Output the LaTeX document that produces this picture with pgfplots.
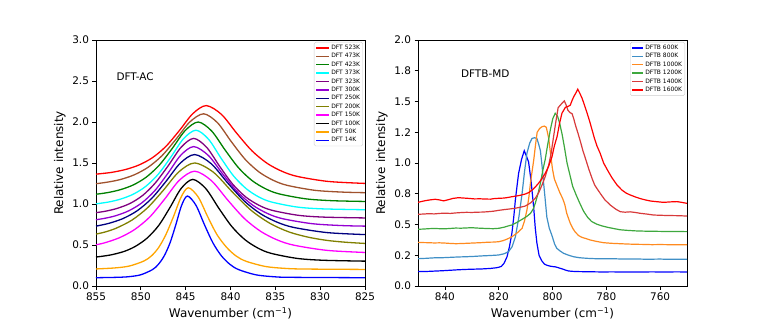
\documentclass[border=0pt]{standalone}
\usepackage{fontspec}
\setmainfont{DejaVu Sans}
\usepackage{pgfplots}
\pgfplotsset{compat=1.18}

% left panel colours (matplotlib named colours)
\definecolor{msienna}{HTML}{A0522D}
\definecolor{mgreen}{HTML}{008000}
\definecolor{mcyan}{HTML}{00FFFF}
\definecolor{mpurple}{HTML}{800080}
\definecolor{mviolet}{HTML}{9400D3}
\definecolor{mnavy}{HTML}{000080}
\definecolor{molive}{HTML}{808000}
\definecolor{mmagenta}{HTML}{FF00FF}
\definecolor{morange}{HTML}{FFA500}
% right panel colours (tab palette, slightly transparent look)
\definecolor{tblue}{HTML}{3F8FC6}
\definecolor{torange}{HTML}{FF8A1F}
\definecolor{tgreen}{HTML}{3EA83E}
\definecolor{tred}{HTML}{D83A3B}

\pgfplotsset{
  spec/.style={
    scale only axis, width=269bp, height=246bp,
    x dir=reverse,
    axis line style={line width=0.8bp},
    tick align=outside, major tick length=3.5bp,
    tick style={line width=0.8bp, black},
    xtick pos=lower, ytick pos=left,
    tick label style={font=\fontsize{10.5}{12}\selectfont},
    label style={font=\fontsize{12}{14}\selectfont},
    /pgf/number format/assume math mode=true,
    xlabel={Wavenumber (cm\textsuperscript{−1})},
    ylabel={Relative intensity},
    legend cell align=left,
    legend style={font=\fontsize{6}{7}\selectfont, draw=black!20,
      rounded corners=1.5bp, anchor=north east,
      at={(axis description cs:1,1)}, xshift=-2bp, yshift=-2bp,
      inner sep=1.5bp, row sep=0pt,
      nodes={inner sep=1.2bp, text height=4.6bp, text depth=1.4bp}},
    legend image code/.code={\draw[##1, line width=1.4bp] (0bp,0bp) -- (13bp,0bp);},
    every axis plot/.append style={line width=1.3bp},
  }
}

\begin{document}
\begin{tikzpicture}
\useasboundingbox (0,0) rectangle (763bp,327bp);

% ---------------- left: DFT-AC ----------------
\begin{axis}[spec,
  at={(96bp,41bp)}, anchor=south west,
  xmin=825, xmax=855, ymin=0, ymax=3,
  xtick={825,830,835,840,845,850,855},
  ytick={0,0.5,1,1.5,2,2.5,3},
  yticklabel style={/pgf/number format/fixed,
    /pgf/number format/fixed zerofill, /pgf/number format/precision=1},
  every axis plot/.append style={smooth},
]
\addplot[red] coordinates {(855,1.364) (853.3,1.385) (851.7,1.421) (850.2,1.476) (848.7,1.565) (847.2,1.703) (845.7,1.896) (844.2,2.102) (842.7,2.200) (841.0,2.092) (839.3,1.862) (837.6,1.648) (835.9,1.495) (834.2,1.396) (832.5,1.335) (829.1,1.275) (825,1.251)};
\addlegendentry{DFT 523K}
\addplot[msienna] coordinates {(855,1.247) (853.7,1.267) (852.3,1.298) (850.75,1.355) (849.2,1.447) (847.65,1.588) (846.1,1.787) (844.55,1.999) (843.0,2.100) (841.45,1.991) (839.9,1.759) (838.35,1.543) (836.8,1.389) (835.25,1.290) (833.7,1.228) (830.6,1.167) (827.5,1.145) (825,1.138)};
\addlegendentry{DFT 473K}
\addplot[mgreen] coordinates {(855,1.119) (853.7,1.139) (852.3,1.174) (850.85,1.232) (849.4,1.327) (847.95,1.473) (846.5,1.677) (845.05,1.896) (843.6,2.000) (842.1,1.890) (840.6,1.658) (839.1,1.441) (837.6,1.286) (836.1,1.186) (834.6,1.124) (831.6,1.063) (828.6,1.040) (825,1.031)};
\addlegendentry{DFT 423K}
\addplot[mcyan] coordinates {(855,1.002) (853.6,1.024) (852.25,1.060) (850.85,1.119) (849.45,1.215) (848.05,1.364) (846.65,1.572) (845.25,1.795) (843.85,1.900) (842.45,1.790) (841.05,1.558) (839.65,1.341) (838.25,1.187) (836.85,1.086) (835.45,1.025) (832.65,0.964) (829.85,0.941) (825,0.930)};
\addlegendentry{DFT 373K}
\addplot[mpurple] coordinates {(855,0.894) (853.9,0.913) (852.65,0.946) (851.2,1.007) (849.8,1.104) (848.4,1.255) (846.95,1.466) (845.5,1.693) (844.1,1.800) (842.65,1.690) (841.2,1.458) (839.75,1.241) (838.3,1.086) (836.85,0.986) (835.4,0.924) (832.5,0.863) (829.6,0.840) (825,0.830)};
\addlegendentry{DFT 323K}
\addplot[mviolet] coordinates {(855,0.808) (854.0,0.826) (852.8,0.857) (851.35,0.917) (849.9,1.013) (848.45,1.162) (847.0,1.371) (845.55,1.594) (844.1,1.700) (842.45,1.590) (840.8,1.356) (839.15,1.139) (837.5,0.984) (835.85,0.883) (834.2,0.821) (830.9,0.760) (827.6,0.737) (825,0.730)};
\addlegendentry{DFT 300K}
\addplot[mnavy] coordinates {(855,0.730) (853.6,0.763) (852.0,0.822) (850.4,0.918) (848.8,1.067) (847.2,1.275) (845.6,1.498) (844.0,1.603) (842.15,1.491) (840.3,1.255) (838.45,1.035) (836.6,0.878) (834.75,0.776) (832.9,0.713) (829.2,0.651) (825,0.627)};
\addlegendentry{DFT 250K}
\addplot[molive] coordinates {(855,0.633) (854.0,0.658) (852.75,0.705) (851.0,0.803) (849.25,0.954) (847.5,1.166) (845.75,1.393) (844.0,1.500) (841.9,1.387) (839.8,1.147) (837.7,0.923) (835.6,0.764) (833.5,0.660) (831.4,0.597) (829.3,0.557) (827.2,0.534) (825,0.519)};
\addlegendentry{DFT 200K}
\addplot[mmagenta] coordinates {(855,0.503) (854.05,0.526) (852.4,0.588) (850.7,0.688) (849.0,0.842) (847.35,1.059) (845.7,1.290) (844.0,1.400) (842.15,1.287) (840.3,1.047) (838.45,0.823) (836.6,0.664) (834.75,0.560) (832.9,0.497) (829.2,0.434) (825,0.409)};
\addlegendentry{DFT 150K}
\addplot[black] coordinates {(855,0.353) (853.4,0.378) (851.85,0.422) (850.6,0.484) (849.3,0.584) (848.0,0.739) (846.75,0.957) (845.5,1.190) (844.2,1.300) (842.75,1.187) (841.3,0.948) (839.85,0.725) (838.4,0.566) (836.95,0.463) (835.5,0.399) (832.6,0.337) (829.7,0.314) (825,0.303)};
\addlegendentry{DFT 100K}
\addplot[morange] coordinates {(855,0.208) (852.95,0.220) (851.3,0.243) (849.65,0.305) (848.8,0.369) (848.0,0.471) (847.2,0.628) (846.35,0.849) (845.5,1.086) (844.7,1.198) (843.6,1.085) (842.55,0.847) (841.5,0.625) (840.4,0.467) (839.35,0.364) (838.25,0.301) (836.1,0.238) (833.95,0.215) (831.8,0.207) (825,0.202)};
\addlegendentry{DFT 50K}
\addplot[blue] coordinates {(855,0.101) (852.6,0.106) (851.3,0.114) (850.0,0.137) (848.7,0.200) (848.05,0.263) (847.4,0.366) (846.75,0.524) (846.1,0.746) (845.45,0.984) (844.8,1.097) (843.85,0.984) (842.9,0.746) (841.95,0.524) (841.0,0.366) (840.05,0.263) (839.1,0.200) (837.2,0.137) (835.3,0.114) (833.4,0.106) (825,0.101)};
\addlegendentry{DFT 14K}
\node[anchor=west, font=\fontsize{10.5}{12}\selectfont] at (axis cs:853.1,2.55) {DFT-AC};
\end{axis}

% ---------------- right: DFTB-MD ----------------
\begin{axis}[spec,
  at={(418bp,41bp)}, anchor=south west,
  xmin=750, xmax=850, ymin=0, ymax=2,
  xtick={760,780,800,820,840},
  ytick={0,0.25,0.5,0.75,1,1.25,1.5,1.75,2},
  yticklabels={0.0,0.2,0.5,0.8,1.0,1.2,1.5,1.8,2.0},
  every axis plot/.append style={line width=1.2bp},
  legend image code/.code={\draw[#1, line width=1.4bp] (0bp,0bp) -- (11bp,0bp);},
]
\addplot[blue] coordinates {(850,0.117) (847,0.118) (844,0.121) (841,0.124) (838,0.128) (835,0.132) (832,0.135) (829,0.137) (826,0.139) (823,0.143) (821,0.148) (820,0.152) (819,0.160) (818,0.185) (816.9,0.238) (816,0.32) (815.1,0.428) (814.4,0.56) (813.8,0.70) (813.2,0.81) (812.6,0.916) (811.5,1.03) (810.5,1.10) (809.6,1.05) (808.9,1.01) (808.0,0.86) (807.0,0.64) (806.4,0.47) (805.8,0.35) (805.0,0.25) (804.0,0.205) (803.0,0.178) (802.0,0.168) (801.0,0.162) (800,0.158) (799,0.156) (798,0.150) (797,0.143) (796,0.136) (795,0.128) (794,0.122) (792.5,0.119) (790,0.117) (787,0.116) (784,0.115) (781,0.114) (778,0.115) (775,0.114) (772,0.113) (769,0.114) (766,0.114) (763,0.115) (760,0.114) (757,0.114) (754,0.115) (750,0.114)};
\addlegendentry{DFTB 600K}
\addplot[tblue] coordinates {(850,0.222) (847,0.225) (844,0.229) (841,0.230) (838,0.233) (835,0.236) (832,0.238) (829,0.241) (826,0.245) (823,0.248) (820,0.252) (818,0.262) (816.3,0.28) (815,0.32) (813.8,0.40) (812.5,0.56) (811.3,0.753) (810.4,0.93) (809.5,1.08) (808.5,1.16) (807.6,1.20) (806.7,1.205) (805.8,1.20) (805.1,1.15) (804.5,1.10) (803.9,0.98) (803.3,0.835) (802.7,0.70) (802.1,0.56) (801.2,0.47) (800.2,0.41) (799.2,0.34) (798.4,0.306) (797.2,0.285) (795.9,0.266) (794,0.25) (792.2,0.238) (790,0.23) (787.2,0.225) (784,0.222) (781,0.221) (778,0.222) (775,0.220) (772,0.219) (769,0.220) (766,0.218) (763,0.218) (760,0.219) (757,0.217) (754,0.217) (750,0.217)};
\addlegendentry{DFTB 800K}
\addplot[torange] coordinates {(850,0.355) (848,0.353) (846,0.352) (844,0.350) (842,0.351) (840,0.349) (838,0.346) (836,0.344) (834,0.345) (832,0.347) (830,0.349) (828,0.351) (826,0.353) (824,0.356) (822,0.357) (820,0.36) (818.5,0.368) (817,0.38) (815.1,0.40) (813.2,0.43) (811.3,0.469) (810.4,0.53) (809.5,0.618) (808.8,0.72) (808.2,0.835) (807.6,0.93) (807.0,1.02) (806.3,1.15) (805.7,1.25) (804.8,1.28) (803.9,1.295) (803.0,1.30) (802.3,1.29) (801.4,1.20) (800.7,1.07) (800.0,0.95) (799.3,0.87) (798.4,0.82) (797.3,0.76) (796.2,0.71) (795.4,0.66) (794.7,0.59) (793.4,0.51) (792.5,0.47) (791.6,0.44) (790.3,0.41) (789.1,0.396) (787.5,0.385) (786,0.374) (783.5,0.362) (781,0.352) (778,0.347) (775,0.344) (772,0.341) (769,0.339) (766,0.338) (763,0.336) (760,0.337) (757,0.336) (754,0.335) (750,0.336)};
\addlegendentry{DFTB 1000K}
\addplot[tgreen] coordinates {(850,0.461) (848,0.463) (846,0.466) (844,0.468) (842,0.466) (840,0.465) (838,0.468) (836,0.471) (834,0.470) (832,0.472) (830,0.474) (828,0.471) (826,0.469) (824,0.467) (822,0.466) (820,0.469) (818,0.478) (816.5,0.488) (815.1,0.496) (813,0.52) (811.3,0.542) (809.6,0.565) (808.2,0.59) (807.2,0.625) (806.4,0.672) (805.4,0.75) (804.5,0.835) (803.6,0.94) (802.7,1.03) (801.7,1.16) (800.8,1.27) (799.9,1.36) (799.0,1.404) (798.1,1.38) (797.3,1.32) (796.4,1.23) (795.5,1.12) (794.6,1.00) (793.6,0.91) (792.5,0.81) (791.2,0.74) (790,0.68) (788.5,0.61) (787,0.56) (785.5,0.525) (783.5,0.502) (781.5,0.488) (779.5,0.477) (777,0.466) (774.8,0.457) (772,0.452) (769,0.448) (766,0.446) (763,0.445) (760,0.444) (757,0.443) (754,0.443) (750,0.442)};
\addlegendentry{DFTB 1200K}
\addplot[tred] coordinates {(850,0.583) (848,0.585) (846,0.588) (844,0.586) (842,0.590) (840,0.592) (838,0.590) (836,0.594) (834,0.597) (832,0.599) (830,0.598) (828,0.600) (826,0.601) (824,0.604) (822,0.608) (820,0.615) (818,0.621) (816,0.626) (814,0.632) (812,0.640) (810.1,0.65) (808.2,0.675) (806.4,0.713) (805.1,0.76) (803.9,0.821) (802.7,0.89) (801.4,0.984) (800.5,1.08) (799.6,1.214) (798.8,1.33) (797.9,1.45) (797.1,1.47) (796.3,1.49) (795.6,1.505) (794.9,1.47) (794.3,1.43) (793.5,1.41) (792.7,1.40) (792.1,1.36) (791.5,1.31) (790.5,1.24) (789.6,1.173) (788.7,1.10) (787.8,1.04) (786.5,0.95) (785.3,0.875) (784.3,0.82) (783.4,0.79) (782,0.745) (780.5,0.70) (778.5,0.658) (776.5,0.625) (774.8,0.604) (773,0.600) (771.1,0.603) (769,0.597) (767.4,0.591) (765,0.585) (762.4,0.577) (760,0.575) (757,0.573) (754,0.572) (750,0.569)};
\addlegendentry{DFTB 1400K}
\addplot[red] coordinates {(850,0.68) (848.5,0.688) (847,0.695) (845.5,0.70) (843.6,0.705) (842,0.70) (840.5,0.692) (839,0.70) (837,0.712) (835,0.718) (833,0.715) (831,0.712) (829,0.708) (827,0.709) (825,0.707) (823,0.706) (822,0.71) (820,0.713) (818,0.715) (816.5,0.72) (815.1,0.726) (813,0.733) (811.5,0.74) (810.1,0.748) (808.8,0.76) (807.6,0.78) (806.4,0.805) (805.2,0.835) (804,0.87) (802.7,0.916) (801.5,0.97) (800.2,1.05) (799.3,1.14) (798.3,1.214) (797.4,1.32) (796.5,1.404) (795.2,1.453) (794.2,1.46) (793.4,1.47) (792.7,1.51) (792.1,1.539) (791.3,1.57) (790.6,1.60) (789.8,1.565) (789.0,1.526) (788.1,1.47) (787.2,1.41) (786.2,1.34) (785.3,1.27) (784.4,1.20) (783.5,1.14) (782.3,1.08) (781.0,1.00) (779.5,0.94) (777.9,0.88) (776.0,0.821) (774.2,0.78) (772.6,0.755) (771.1,0.74) (769.2,0.724) (767.3,0.71) (765.5,0.70) (763.6,0.691) (761,0.685) (758.7,0.68) (756,0.684) (753.7,0.686) (752,0.68) (750,0.672)};
\addlegendentry{DFTB 1600K}
\node[anchor=west, font=\fontsize{10.5}{12}\selectfont] at (axis cs:835.3,1.73) {DFTB-MD};
\end{axis}
\end{tikzpicture}
\end{document}
